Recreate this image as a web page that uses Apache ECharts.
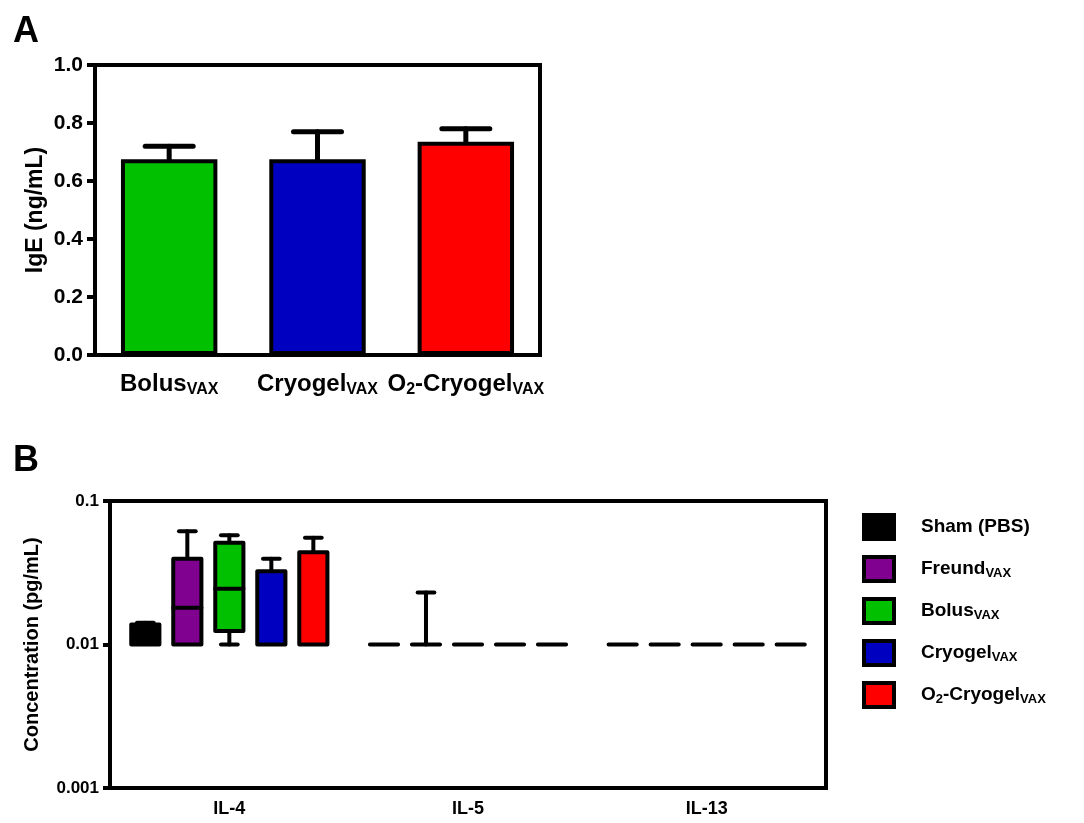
<!DOCTYPE html>
<html><head><meta charset="utf-8">
<script src="https://cdn.jsdelivr.net/npm/echarts@6/dist/echarts.min.js"></script>
<style>html,body{margin:0;padding:0;background:#fff}#c{width:1084px;height:823px}</style>
</head><body><div id="c"></div>
<script>
const FONT = '"Liberation Sans", Arial, Helvetica, sans-serif';

// ---------- Panel A data ----------
const catsA = ['BolusVAX', 'CryogelVAX', 'O2-CryogelVAX'];
const colorsA = ['#00c000', '#0000c0', '#ff0000'];
const igeMean = [0.675, 0.675, 0.735];
const igeErrTop = [0.72, 0.77, 0.78];

// ---------- Panel B data ----------
const cytokines = ['IL-4', 'IL-5', 'IL-13'];
const groups = ['Sham (PBS)', 'FreundVAX', 'BolusVAX', 'CryogelVAX', 'O2-CryogelVAX'];
const groupColors = ['#000000', '#800090', '#00c000', '#0000c0', '#ff0000'];
// each entry: [min, q1, median, q3, max] for IL-4, IL-5, IL-13
const shamPBS = [[0.01, 0.01, 0.01, 0.0138, 0.0142], [0.01, 0.01, 0.01, 0.01, 0.01], [0.01, 0.01, 0.01, 0.01, 0.01]];
const freundVAX = [[0.01, 0.01, 0.018, 0.0396, 0.0616], [0.01, 0.01, 0.01, 0.01, 0.023], [0.01, 0.01, 0.01, 0.01, 0.01]];
const bolusVAX = [[0.01, 0.0124, 0.0245, 0.0511, 0.0578], [0.01, 0.01, 0.01, 0.01, 0.01], [0.01, 0.01, 0.01, 0.01, 0.01]];
const cryogelVAX = [[0.01, 0.01, 0.01, 0.0324, 0.0396], [0.01, 0.01, 0.01, 0.01, 0.01], [0.01, 0.01, 0.01, 0.01, 0.01]];
const o2CryogelVAX = [[0.01, 0.01, 0.01, 0.044, 0.0554], [0.01, 0.01, 0.01, 0.01, 0.01], [0.01, 0.01, 0.01, 0.01, 0.01]];
const boxData = [shamPBS, freundVAX, bolusVAX, cryogelVAX, o2CryogelVAX];

// rich-text label with subscripts
function richName(name, b, s) {
  let main = name, sub = '';
  if (name.endsWith('VAX')) { main = name.slice(0, -3); sub = 'VAX'; }
  let out;
  if (main.startsWith('O2')) out = '{' + b + '|O}{' + s + '|2}{' + b + '|' + main.slice(2) + '}';
  else out = '{' + b + '|' + main + '}';
  if (sub) out += '{' + s + '|' + sub + '}';
  return out;
}

const chart = echarts.init(document.getElementById('c'), null, {renderer: 'canvas'});

const blk = '#000';

const seriesB = groups.map(function (g, gi) {
  return {
    name: g,
    type: 'custom',
    xAxisIndex: 1, yAxisIndex: 1,
    itemStyle: {color: groupColors[gi], borderColor: blk},
    encode: {x: 0, y: [1, 2, 3, 4, 5]},
    data: boxData[gi].map(function (r, ci) { return [ci].concat(r); }),
    z: 5,
    renderItem: function (params, api) {
      const ci = api.value(0);
      const vals = [api.value(1), api.value(2), api.value(3), api.value(4), api.value(5)];
      const c0 = api.coord([0, vals[0]]);
      const c1 = api.coord([1, vals[0]]);
      const band = c1[0] - c0[0];
      const xc = api.coord([ci, vals[0]])[0] + (gi - 2) * band * 0.176;
      const yy = vals.map(function (v) { return api.coord([ci, v])[1]; });
      const bw = band * 0.118;
      const cw = band * 0.035;
      const ls = {stroke: blk, lineWidth: 4, lineCap: 'round', lineJoin: 'round'};
      const ch = [];
      if (yy[4] < yy[3] - 0.5) {
        ch.push({type: 'line', shape: {x1: xc, y1: yy[3], x2: xc, y2: yy[4]}, style: ls});
        ch.push({type: 'line', shape: {x1: xc - cw, y1: yy[4], x2: xc + cw, y2: yy[4]}, style: ls});
      }
      if (yy[0] > yy[1] + 0.5) {
        ch.push({type: 'line', shape: {x1: xc, y1: yy[1], x2: xc, y2: yy[0]}, style: ls});
        ch.push({type: 'line', shape: {x1: xc - cw, y1: yy[0], x2: xc + cw, y2: yy[0]}, style: ls});
      }
      ch.push({type: 'rect', shape: {x: xc - bw / 2, y: yy[3], width: bw, height: yy[1] - yy[3]},
        style: {fill: groupColors[gi], stroke: blk, lineWidth: 4, lineJoin: 'round'}});
      if (yy[2] < yy[1] - 0.5 && yy[2] > yy[3] + 0.5) {
        ch.push({type: 'line', shape: {x1: xc - bw / 2, y1: yy[2], x2: xc + bw / 2, y2: yy[2]}, style: ls});
      }
      return {type: 'group', children: ch};
    }
  };
});

const option = {
  backgroundColor: '#fff',
  animation: false,
  textStyle: {fontFamily: FONT},
  title: [
    {text: 'A', left: 8, top: 9, textStyle: {fontSize: 36, fontWeight: 'bold', color: blk, fontFamily: FONT}},
    {text: 'B', left: 8, top: 438, textStyle: {fontSize: 36, fontWeight: 'bold', color: blk, fontFamily: FONT}}
  ],
  grid: [
    {left: 95, right: 544, top: 65, bottom: 468, show: true, borderColor: blk, borderWidth: 4, containLabel: false},
    {left: 110, right: 258, top: 501, bottom: 35, show: true, borderColor: blk, borderWidth: 4, containLabel: false}
  ],
  legend: {
    left: 857, top: 508, orient: 'vertical',
    icon: 'rect', itemWidth: 30, itemHeight: 24, itemGap: 14,
    data: groups.map(function (g, gi) {
      return {name: g, itemStyle: {color: groupColors[gi], borderColor: blk, borderWidth: 4}};
    }),
    formatter: function (n) { return richName(n, 'b', 's'); },
    textStyle: {
      padding: [0, 0, 0, 22],
      rich: {
        b: {fontSize: 19, fontWeight: 'bold', color: blk, fontFamily: FONT, lineHeight: 22},
        s: {fontSize: 13, fontWeight: 'bold', color: blk, fontFamily: FONT, verticalAlign: 'bottom', lineHeight: 12}
      }
    }
  },
  xAxis: [
    {
      type: 'category', gridIndex: 0, data: catsA,
      axisLine: {lineStyle: {color: blk, width: 4}},
      axisTick: {alignWithLabel: true, length: 8, lineStyle: {color: blk, width: 4}},
      axisLabel: {
        margin: 15, interval: 0, hideOverlap: false,
        formatter: function (n) { return richName(n, 'b', 's'); },
        rich: {
          b: {fontSize: 24, fontWeight: 'bold', color: blk, fontFamily: FONT, lineHeight: 28},
          s: {fontSize: 16, fontWeight: 'bold', color: blk, fontFamily: FONT, verticalAlign: 'bottom', lineHeight: 16}
        }
      }
    },
    {
      type: 'category', gridIndex: 1, data: cytokines,
      axisLine: {lineStyle: {color: blk, width: 4}},
      axisTick: {alignWithLabel: true, length: 7, lineStyle: {color: blk, width: 4}},
      axisLabel: {margin: 12, interval: 0, fontSize: 18, fontWeight: 'bold', color: blk, fontFamily: FONT}
    }
  ],
  yAxis: [
    {
      type: 'value', gridIndex: 0, min: 0, max: 1, interval: 0.2,
      name: 'IgE (ng/mL)', nameLocation: 'middle', nameGap: 48,
      nameTextStyle: {fontSize: 23, fontWeight: 'bold', color: blk, fontFamily: FONT},
      axisLine: {show: true, lineStyle: {color: blk, width: 4}},
      axisTick: {show: true, length: 8, lineStyle: {color: blk, width: 4}},
      splitLine: {show: false},
      axisLabel: {margin: 12, fontSize: 21, fontWeight: 'bold', color: blk, fontFamily: FONT,
        formatter: function (v) { return v.toFixed(1); }}
    },
    {
      type: 'log', gridIndex: 1, logBase: 10, min: 0.001, max: 0.1,
      name: 'Concentration (pg/mL)', nameLocation: 'middle', nameGap: 68,
      nameTextStyle: {fontSize: 20, fontWeight: 'bold', color: blk, fontFamily: FONT},
      axisLine: {show: true, lineStyle: {color: blk, width: 4}},
      axisTick: {show: true, length: 7, lineStyle: {color: blk, width: 4}},
      minorTick: {show: false},
      splitLine: {show: false},
      axisLabel: {margin: 11, fontSize: 17, fontWeight: 'bold', color: blk, fontFamily: FONT,
        formatter: function (v) { return String(Number(v.toPrecision(3))); }}
    }
  ],
  series: [
    {
      name: 'IgE', type: 'bar', xAxisIndex: 0, yAxisIndex: 0, barWidth: '65%',
      data: igeMean.map(function (v, i) {
        return {value: v, itemStyle: {color: colorsA[i], borderColor: blk, borderWidth: 4}};
      }),
      z: 3
    },
    {
      name: 'IgE err', type: 'custom', xAxisIndex: 0, yAxisIndex: 0,
      encode: {x: 0, y: [1, 2]},
      data: igeMean.map(function (v, i) { return [i, v, igeErrTop[i]]; }),
      z: 4,
      renderItem: function (params, api) {
        const p0 = api.coord([api.value(0), api.value(1)]);
        const p1 = api.coord([api.value(0), api.value(2)]);
        const ls = {stroke: blk, lineWidth: 5, lineCap: 'round'};
        return {type: 'group', children: [
          {type: 'line', shape: {x1: p0[0], y1: p0[1], x2: p1[0], y2: p1[1]}, style: ls},
          {type: 'line', shape: {x1: p1[0] - 24, y1: p1[1], x2: p1[0] + 24, y2: p1[1]}, style: ls}
        ]};
      }
    }
  ].concat(seriesB)
};
chart.setOption(option);
</script>
</body></html>
